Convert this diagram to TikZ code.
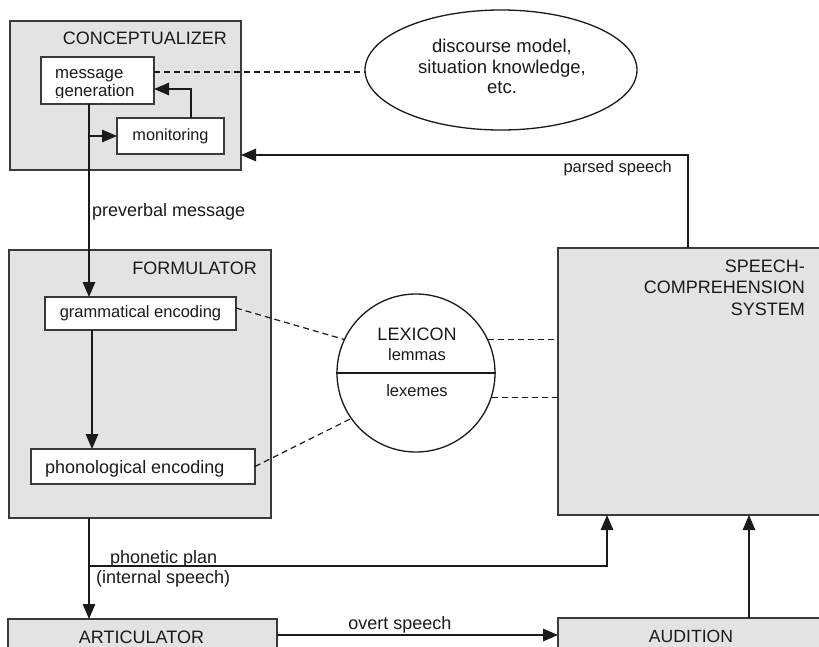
\documentclass[tikz,border=0pt]{standalone}
\usepackage{fontspec}
\setmainfont{Liberation Sans}
\usetikzlibrary{arrows.meta,shapes.geometric}
\definecolor{boxfill}{HTML}{E2E3E2}
\definecolor{edge}{HTML}{3A3A3A}
\definecolor{ink}{HTML}{1A1A1A}
\begin{document}
\begin{tikzpicture}[x=1pt,y=-1pt,
  panel/.style={draw=edge, fill=boxfill, line width=1.5pt, anchor=north west, inner sep=0pt, outer sep=0pt},
  wbox/.style={draw=edge, fill=white, line width=1.5pt, anchor=north west, inner sep=0pt, outer sep=0pt, text=ink},
  big/.style={text=ink, inner sep=0pt, font=\fontsize{18}{21.5}\selectfont},
  small/.style={text=ink, inner sep=0pt, font=\fontsize{16.5}{19}\selectfont},
  conn/.style={draw=ink, line width=1.3pt},
  arr/.style={conn, -{Triangle[length=15pt,width=12.5pt]}},
  dashline/.style={draw=ink, line width=1.2pt, dash pattern=on 6pt off 4pt}]
\useasboundingbox (0,0) rectangle (819,646);
\clip (0,0) rectangle (819,646);
\fill[white] (0,0) rectangle (819,646);

% ---------- CONCEPTUALIZER ----------
\node[panel, minimum width=231pt, minimum height=149pt] (concept) at (10,21) {};
\node[big, anchor=base east] (conceptlbl) at (227,44.3) {CONCEPTUALIZER};
\node[wbox, minimum width=113pt, minimum height=47pt] (msggen) at (41,57) {};
\begin{scope}
  \clip (42,58) rectangle (153,97.5);
  \node[small, anchor=west, align=left, font=\fontsize{16.8}{18.2}\selectfont] (msgtext) at (55,84.4) {message\\generation};
\end{scope}
\node[wbox, minimum width=107pt, minimum height=36pt, font=\fontsize{16.3}{19}\selectfont] (monitor) at (117,118) {monitoring};

% ---------- discourse model ellipse ----------
\node[ellipse, draw=ink, line width=1.3pt, minimum width=272pt, minimum height=120pt, inner sep=0pt] (discourse) at (501,70) {};
\node[big, align=center, font=\fontsize{18.5}{20.5}\selectfont] (disctext) at (502,66.5) {discourse model,\\situation knowledge,\\etc.};

% ---------- FORMULATOR ----------
\node[panel, minimum width=262pt, minimum height=268pt] (form) at (9,250) {};
\node[big, anchor=base east] (formlbl) at (257,274.3) {FORMULATOR};
\node[wbox, minimum width=191pt, minimum height=33pt, font=\fontsize{16.5}{19}\selectfont] (gramm) at (45,297) {grammatical encoding};
\node[wbox, minimum width=224pt, minimum height=35pt] (phon) at (31,449) {};
\node[big, anchor=base west] (phontext) at (45,473) {phonological encoding};

% ---------- LEXICON ----------
\node[circle, draw=ink, fill=white, line width=1.3pt, minimum size=158pt, inner sep=0pt] (lexicon) at (416,373) {};
\draw[conn] (lexicon.west) -- (lexicon.east);
\node[big, anchor=base] (lexlbl) at (417,340) {LEXICON};
\node[small, anchor=base] (lemmas) at (417,360) {lemmas};
\node[small, anchor=base] (lexemes) at (417,396) {lexemes};

% ---------- SPEECH-COMPREHENSION SYSTEM ----------
\node[panel, minimum width=280pt, minimum height=267pt] (scs) at (558,248) {};
\node[big, align=right, anchor=east] (scslbl) at (805,287.5) {SPEECH-\\COMPREHENSION\\SYSTEM};

% ---------- ARTICULATOR / AUDITION ----------
\node[panel, minimum width=269pt, minimum height=60pt] (artic) at (8,619) {};
\node[big, anchor=base] (articlbl) at (141.5,643) {ARTICULATOR};
\node[panel, minimum width=280pt, minimum height=60pt] (audit) at (558,618) {};
\node[big, anchor=base, font=\fontsize{17.6}{20}\selectfont] (auditlbl) at (691,642.5) {AUDITION};

% ---------- connectors ----------
\draw[arr] ([xshift=48pt]msggen.south west) -- ([xshift=48pt]msggen.south west |- gramm.north);
\draw[arr] ([xshift=48pt]msggen.south west |- monitor.west) -- (monitor.west);
\draw[arr] ([xshift=74pt]monitor.north west) |- ([yshift=15pt]msggen.south east);
\coordinate (m1) at ([yshift=-15pt]msggen.north east);
\draw[dashline] (m1) -- (m1 -| discourse.west);

\draw[arr] ([xshift=130pt]scs.north west) |- ([yshift=15pt]concept.south east);
\node[small, anchor=base east] (parsedlbl) at (672,172.5) {parsed speech};

\node[big, anchor=base west] (prevlbl) at (92,216.5) {preverbal message};

\draw[arr] ([xshift=47pt]gramm.south west) -- ([xshift=47pt]gramm.south west |- phon.north);

\draw[dashline] ([yshift=5.5pt]gramm.east) -- (lexicon.155);
\draw[dashline] (phon.east) -- (lexicon.215);
\draw[dashline] (lexicon.25) -- (lexicon.25 -| scs.west);
\draw[dashline] (lexicon.-18) -- (lexicon.-18 -| scs.west);

\draw[arr] ([xshift=80pt]form.south west) -- ([xshift=80pt]form.south west |- artic.north);
\draw[arr] ([xshift=80pt,yshift=-48pt]form.south west) -| ([xshift=49pt]scs.south west);
\node[big, anchor=base west] (phonlbl) at (110,563) {phonetic plan};
\node[big, anchor=base west] (intlbl) at (96,583) {(internal speech)};

\draw[arr] ([yshift=-16pt]artic.north east) -- ([yshift=-16pt]artic.north east -| audit.west);
\node[big, anchor=base] (overtlbl) at (400,629) {overt speech};

\draw[arr] ([xshift=191pt]audit.north west) -- ([xshift=191pt]audit.north west |- scs.south);
\end{tikzpicture}
\end{document}
